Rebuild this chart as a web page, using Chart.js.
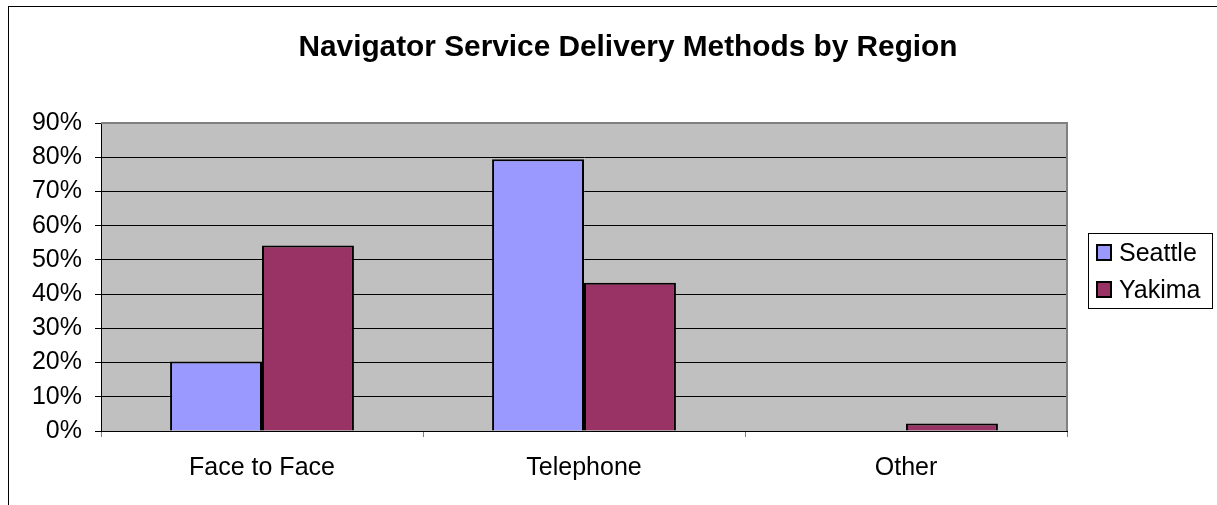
<!DOCTYPE html>
<html>
<head>
<meta charset="utf-8">
<script src="https://cdn.jsdelivr.net/npm/chart.js@4.4.0/dist/chart.umd.min.js"></script>
<style>
  html, body { margin: 0; padding: 0; background: #fff; overflow: hidden; width: 1217px; height: 505px; }
  #frame { position: absolute; left: 8px; top: 6px; border-left: 1px solid #000; border-top: 1px solid #000; width: 1240px; height: 520px; }
  #chart { display: block; }
</style>
</head>
<body>
<div id="frame"><canvas id="chart" width="1238" height="498"></canvas></div>
<script>
const categories = ['Face to Face', 'Telephone', 'Other']
const seattle = [20.3, 79.4, 0]
const yakima = [54.2, 43.3, 2.2]
const series_names = ['Seattle', 'Yakima']
const series_colors = ['#9999FF', '#993366']
const title_text = 'Navigator Service Delivery Methods by Region'
const y_ticks_max = 90
const y_step = 10

const font_family = "'Liberation Sans', Arial, sans-serif"

// grey plot background and the grey top/right frame of the plot
const plot_area = {
    id: 'plot_area',
    beforeDraw(chart) {
        const a = chart.chartArea
        const ctx = chart.ctx
        ctx.save()
        ctx.fillStyle = '#C0C0C0'
        ctx.fillRect(a.left, a.top, a.right - a.left, a.bottom - a.top)
        ctx.restore()
    },
    afterDatasetsDraw(chart) {
        const a = chart.chartArea
        const ctx = chart.ctx
        ctx.save()
        ctx.strokeStyle = '#808080'
        ctx.lineWidth = 2
        ctx.beginPath()
        ctx.moveTo(a.left, a.top)
        ctx.lineTo(a.right, a.top)
        ctx.lineTo(a.right, a.bottom)
        ctx.stroke()
        ctx.restore()
    }
}

// boxed legend to the right of the plot
const boxed_legend = {
    id: 'boxed_legend',
    afterDraw(chart) {
        const a = chart.chartArea
        const ctx = chart.ctx
        const x = a.right + 21
        const y = 226
        ctx.save()
        ctx.fillStyle = '#fff'
        ctx.fillRect(x, y, 125, 76)
        ctx.strokeStyle = '#000'
        ctx.lineWidth = 1
        ctx.strokeRect(x + 0.5, y + 0.5, 124, 75)
        ctx.font = '25px ' + font_family
        ctx.textBaseline = 'alphabetic'
        chart.data.datasets.forEach((ds, i) => {
            const row = y + 12 + i * 37
            ctx.fillStyle = ds.backgroundColor
            ctx.fillRect(x + 9, row, 14, 15)
            ctx.strokeStyle = '#000'
            ctx.lineWidth = 2
            ctx.strokeRect(x + 9, row, 14, 15)
            ctx.fillStyle = '#000'
            ctx.fillText(ds.label, x + 31, row + 16)
        })
        ctx.restore()
    }
}

const ctx = document.getElementById('chart')

const my_chart = new Chart(ctx, {
    type: 'bar',
    data: {
        labels: categories,
        datasets: [{
            label: series_names[0],
            data: seattle,
            backgroundColor: series_colors[0],
            borderColor: '#000',
            borderWidth: 2,
            borderSkipped: 'bottom'
        }, {
            label: series_names[1],
            data: yakima,
            backgroundColor: series_colors[1],
            borderColor: '#000',
            borderWidth: 2,
            borderSkipped: 'bottom'
        }]
    },
    options: {
        responsive: false,
        animation: false,
        events: [],
        datasets: {
            bar: { categoryPercentage: 0.571, barPercentage: 1 }
        },
        layout: { padding: 0 },
        plugins: {
            legend: { display: false },
            tooltip: { enabled: false },
            title: {
                display: true,
                text: title_text,
                color: '#000',
                font: { family: font_family, size: 29.8, weight: 'bold', lineHeight: 1.2 },
                padding: { top: 22.5, bottom: 57.74 }
            }
        },
        scales: {
            x: {
                afterFit(scale) { scale.height = 74 },
                grid: {
                    offset: true,
                    drawOnChartArea: false,
                    tickLength: 6,
                    tickColor: '#808080'
                },
                border: { color: '#000', width: 1 },
                ticks: {
                    color: '#000',
                    padding: 16,
                    font: { family: font_family, size: 25 }
                }
            },
            y: {
                min: 0,
                max: y_ticks_max,
                afterFit(scale) { scale.width = 92 },
                grid: {
                    color: '#000',
                    lineWidth: 1,
                    tickLength: 6,
                    tickColor: '#000'
                },
                border: { color: '#000', width: 1 },
                ticks: {
                    stepSize: y_step,
                    color: '#000',
                    padding: 13,
                    font: { family: font_family, size: 25 },
                    callback: v => v + '%'
                }
            },
            y2: {
                position: 'right',
                afterFit(scale) { scale.width = 180 },
                grid: { display: false },
                border: { display: false },
                ticks: { display: false }
            }
        }
    },
    plugins: [plot_area, boxed_legend]
})
</script>
</body>
</html>
